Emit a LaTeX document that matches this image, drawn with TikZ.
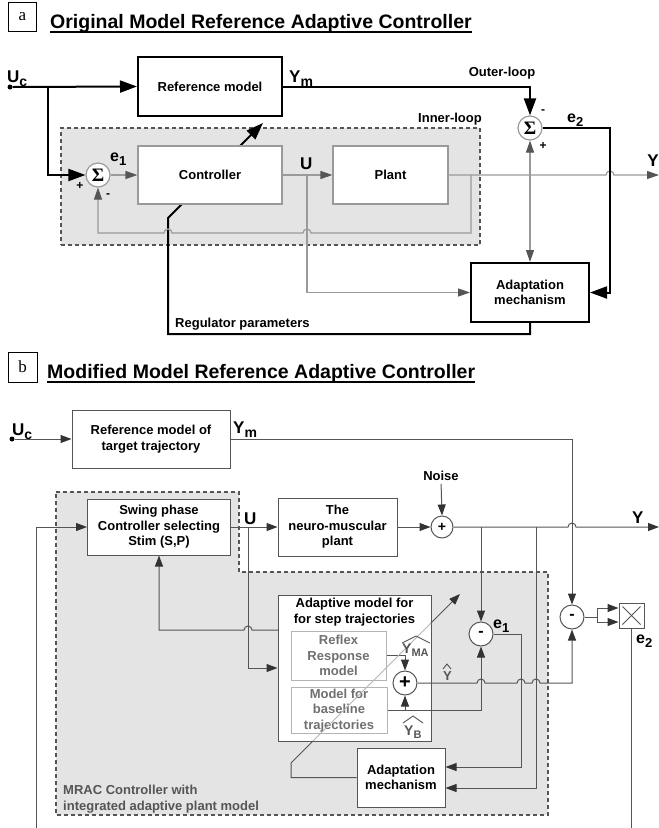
\documentclass[tikz,border=0pt]{standalone}
\usepackage{fontspec}
\setmainfont{Liberation Sans}
\newfontfamily\serifface{Liberation Serif}
\usetikzlibrary{arrows.meta,calc}
\pgfdeclarelayer{bg}
\pgfdeclarelayer{mid}
\pgfsetlayers{bg,mid,main}
\definecolor{lgray}{HTML}{9A9A9A}
\definecolor{dgray}{HTML}{555555}
\definecolor{regfill}{HTML}{E4E4E4}
\definecolor{pale}{HTML}{B4B4B4}
\definecolor{midgray}{HTML}{707070}
\newcommand\subx[2]{\raisebox{-4pt}{\fontsize{#1}{#1}\selectfont #2}}
\begin{document}
\begin{tikzpicture}[x=1pt,y=-1pt,
  txt/.style={font=\bfseries\fontsize{13}{15.5}\selectfont, align=center, inner sep=0pt},
  thickbox/.style={draw=black, line width=2pt, fill=white, txt},
  thinboxa/.style={draw=lgray, line width=1.2pt, fill=white, txt},
  boxb/.style={draw=dgray, line width=1pt, fill=white, txt},
  innerbox/.style={draw=pale, line width=1pt, fill=white, txt, text=midgray},
  circa/.style={circle, draw=lgray, line width=1.2pt, fill=white, minimum size=24pt, inner sep=0pt},
  circb/.style={circle, draw=dgray, line width=1pt, fill=white, minimum size=24pt, inner sep=0pt},
  tk/.style={line width=2pt, draw=black},
  gl/.style={line width=1.2pt, draw=lgray},
  bl/.style={line width=1pt, draw=dgray},
  tka/.style={tk, -{Triangle[length=17pt,width=12pt]}},
  gla/.style={gl, -{Triangle[length=12pt,width=8pt,color=dgray]}},
  bla/.style={bl, -{Triangle[length=11pt,width=8pt,color=black!80]}},
  region/.style={fill=regfill, draw=dgray, line width=1.8pt, dash pattern=on 4pt off 3pt},
  sign/.style={font=\bfseries\fontsize{12}{12}\selectfont, inner sep=0pt},
  lab/.style={inner sep=0pt, anchor=base west},
  biglab/.style={lab, font=\bfseries\fontsize{17}{17}\selectfont},
  elab/.style={lab, font=\bfseries\fontsize{16}{16}\selectfont},
  title/.style={anchor=base west, inner sep=0pt, font=\bfseries\fontsize{19.5}{20}\selectfont},
  letterbox/.style={draw, line width=1pt, inner sep=0pt, font=\serifface\fontsize{17}{17}\selectfont},
  sigma/.style={font=\serifface\bfseries\fontsize{19}{19}\selectfont},
  dot/.style={circle, fill=black, inner sep=0pt, minimum size=5pt},
  hatline/.style={line width=0.9pt, draw=black}
]
\useasboundingbox (0,0) rectangle (659,828);

% ================= Panel a =================
\node[letterbox, minimum width=28pt, minimum height=29pt] (labA) at (22.5,17) {a};
\node[title] (titleA) at (50,28) {Original Model Reference Adaptive Controller};
\draw[line width=1.5pt] ($(titleA.base west)+(0,4)$) -- ($(titleA.base east)+(0,4)$);

\begin{pgfonlayer}{bg}
\node[region, minimum width=419pt, minimum height=117pt] (innerA) at (270.5,186.5) {};
\end{pgfonlayer}

\node[thickbox, minimum width=144pt, minimum height=59pt] (refA) at (210,86.5) {Reference model};
\node[thinboxa, minimum width=144pt, minimum height=58pt] (ctrl) at (210,175) {Controller};
\node[thinboxa, minimum width=115pt, minimum height=58pt] (plant) at (390.5,175) {Plant};
\node[thickbox, minimum width=118pt, minimum height=59pt] (adaptA) at (530,292.5) {Adaptation\\mechanism};
\node[circa, sigma] (s1) at (98,175) {Σ};
\node[circa, sigma] (s2) at (530,128) {Σ};
\node[dot] (ucA) at (10,87) {};

\coordinate (jUcA) at (48,87);
\coordinate (jfA) at (471,175);
\coordinate (jUA) at (307,175);
\coordinate (jYA) at (530,175);
\coordinate (outYA) at (659,175);
\coordinate (regA) at (168,334);
\coordinate (regB) at (168,218);
\coordinate (regTip) at (263,123);

\draw[tka] (ucA.east) -- (refA.west);
\draw[tka] (jUcA) |- (s1.west);
\draw[gla] (s1.east) -- (ctrl.west);
\draw[gla] (ctrl.east) -- (plant.west);
\draw[gla] (plant.east) -- (606,175) arc[start angle=180,end angle=360,radius=4] -- (outYA);
\draw[gla] (jfA) -- (471,233) -- (311,233) arc[start angle=0,end angle=-180,radius=4]
   -- (172,233) arc[start angle=0,end angle=-180,radius=4] -- (98,233) -- (s1.south);
\draw[gla] (jUA) |- (adaptA.west);
\draw[gla] (jYA) -- (s2.south);
\draw[gla] (jYA) -- (adaptA.north);
\draw[tka] (refA.east) -| (s2.north);
\draw[tka] (s2.east) -- (610,128) |- (adaptA.east);
\begin{pgfonlayer}{mid}
\draw[tka] (adaptA.south) |- (regA) -- (regB) -- (regTip);
\end{pgfonlayer}

\node[biglab] (lUcA) at (7,82) {U\subx{14}{c}};
\node[biglab] (lYmA) at (289,82) {Y\subx{14}{m}};
\node[txt] (lOuter) at (502,73) {Outer-loop};
\node[txt] (lInner) at (450,119) {Inner-loop};
\node[elab] (le2A) at (567,122) {e\subx{13}{2}};
\node[elab] (le1A) at (110,161) {e\subx{13}{1}};
\node[biglab] (lUA) at (300,169) {U};
\node[biglab, anchor=base east] (lYA) at (659,166) {Y};
\node[sign] (pA1) at (80,186) {+};
\node[sign] (mA1) at (108,196) {-};
\node[sign] (mA2) at (543,112) {-};
\node[sign] (pA2) at (543,146) {+};
\node[txt, anchor=base west] (lReg) at (175,327) {Regulator parameters};

% ================= Panel b =================
\node[letterbox, minimum width=29pt, minimum height=30pt] (labB) at (22.5,367) {b};
\node[title] (titleB) at (47,378) {Modified Model Reference Adaptive Controller};
\draw[line width=1.5pt] ($(titleB.base west)+(0,4)$) -- ($(titleB.base east)+(0,4)$);

\begin{pgfonlayer}{bg}
\draw[region] (56,492) -- (239,492) -- (239,572) -- (548,572) -- (548,815) -- (56,815) -- cycle;
\end{pgfonlayer}

\node[dot] (ucB) at (12,439) {};
\node[boxb, minimum width=158pt, minimum height=58pt] (refB) at (151,439) {Reference model of\\target trajectory};
\node[boxb, minimum width=143pt, minimum height=56pt] (swing) at (159,527) {Swing phase\\Controller selecting\\Stim (S,P)};
\node[boxb, minimum width=119pt, minimum height=58pt] (plantB) at (337.5,527) {The\\neuro-muscular\\plant};
\node[circb, minimum size=22pt] (noiseS) at (442,527) {\bfseries\fontsize{14}{14}\selectfont +};
\node[txt] (noiseL) at (441,476) {Noise};
\node[boxb, minimum width=153pt, minimum height=146pt] (adm) at (354.5,668) {};
\node[txt] (admT) at (354.5,612) {Adaptive model for\\for step trajectories};
\node[innerbox, minimum width=95pt, minimum height=49pt] (reflex) at (338.5,655.5) {Reflex\\Response\\model};
\node[innerbox, minimum width=96pt, minimum height=46pt] (basel) at (339,710.5) {Model for\\baseline\\trajectories};
\node[boxb, minimum width=88pt, minimum height=59pt] (admech) at (401,777.5) {Adaptation\\mechanism};
\node[circb] (sumY) at (405,683) {\bfseries\fontsize{20}{20}\selectfont +};
\node[circb] (e1c) at (481,634) {\bfseries\fontsize{16}{16}\selectfont -};
\node[circb] (s4) at (572,617) {\bfseries\fontsize{16}{16}\selectfont -};
\node[boxb, minimum size=25pt] (mult) at (631.5,615.5) {};
\draw[bl] ($(mult.north west)+(4,4)$) -- ($(mult.south east)+(-4,-4)$);
\draw[bl] ($(mult.north east)+(-4,4)$) -- ($(mult.south west)+(4,-4)$);

\coordinate (jUB) at (248,527);
\coordinate (jAB) at (481,527);
\coordinate (jBB) at (536,527);
\coordinate (outYB) at (659,527);
\coordinate (fbB) at (278,630);
\coordinate (fbL) at (36,828);
\coordinate (e2end) at (631.5,828);
\coordinate (jE2) at (597,617);
\coordinate (dg1) at (291,763);
\coordinate (dg2) at (313,741);
\coordinate (dg3) at (431,623);
\coordinate (dgTip) at (460,594);

\draw[bla] (ucB) -- (refB.west);
\draw[bla] (refB.east) -| (s4.north);
\draw[bla] (swing.east) -- (plantB.west);
\draw[bla] (plantB.east) -- (noiseS.west);
\draw[bla, shorten <=3pt] (noiseL.south) -- (noiseS.north);
\draw[bla] (noiseS.east) -- (568,527) arc[start angle=180,end angle=360,radius=4] -- (outYB);
\draw[bla] (jUB) |- (adm.west);
\draw[bla] (fbB) -- (252,630) arc[start angle=0,end angle=-180,radius=4] -- (159,630) -- (swing.south);
\draw[bla] (fbL) |- (swing.west);
\draw[bla] (jAB) -- (e1c.north);
\draw[bla] (jBB) |- ($(admech.east)+(0,10.5)$);
\draw[bla] (e1c.east) -- (521,634) |- ($(admech.east)+(0,-10.5)$);
\draw[bla] (reflex.east) -| (sumY.north);
\draw[bla] (basel.east) -| (sumY.south);
\draw[bla] (basel.east) -| (e1c.south);
\draw[bla] (sumY.east) -- (477,683) arc[start angle=180,end angle=360,radius=4]
   -- (517,683) arc[start angle=180,end angle=360,radius=4]
   -- (532,683) arc[start angle=180,end angle=360,radius=4]
   -- (572,683) -- (s4.south);
\draw[bl] (s4.east) -- (jE2);
\draw[bla] (jE2) |- ($(mult.west)+(0,-7.5)$);
\draw[bla] (jE2) |- ($(mult.west)+(0,6.5)$);
\draw[bl] (mult.south) -- (e2end);
\draw[bl] (admech.west) -- (291,777.5) -- (dg1) -- (dg2);
\draw[line width=0.8pt, draw=pale] (dg2) -- (dg3);
\draw[bla] (dg3) -- (dgTip);

\node[biglab] (lUcB) at (12,435) {U\subx{14}{c}};
\node[biglab] (lYmB) at (233,433) {Y\subx{14}{m}};
\node[biglab] (lUB) at (244,524) {U};
\node[biglab] (lYB) at (632,523) {Y};
\node[elab] (le1B) at (493,628) {e\subx{13}{1}};
\node[elab] (le2B) at (636,643) {e\subx{13}{2}};
\node[lab, font=\bfseries\fontsize{14}{14}\selectfont, text=dgray] (lYMA) at (402,653) {Y\raisebox{-3pt}{\fontsize{11}{11}\selectfont MA}};
\draw[hatline, draw=dgray] (402,643) -- (416,636) -- (430,643);
\node[lab, font=\bfseries\fontsize{14}{14}\selectfont, text=dgray] (lYB2) at (404,735) {Y\raisebox{-3pt}{\fontsize{11}{11}\selectfont B}};
\draw[hatline, draw=dgray] (403,723) -- (413,716) -- (423,723);
\node[lab, font=\bfseries\fontsize{13}{13}\selectfont, text=dgray] (lYhat) at (443,680) {Y};
\draw[hatline, draw=dgray] (443,669) -- (447,664) -- (451,669);
\node[txt, anchor=base west, text=dgray] (mrac1) at (63,794) {MRAC Controller with};
\node[txt, anchor=base west, text=dgray] (mrac2) at (63,810) {integrated adaptive plant model};
\end{tikzpicture}
\end{document}
